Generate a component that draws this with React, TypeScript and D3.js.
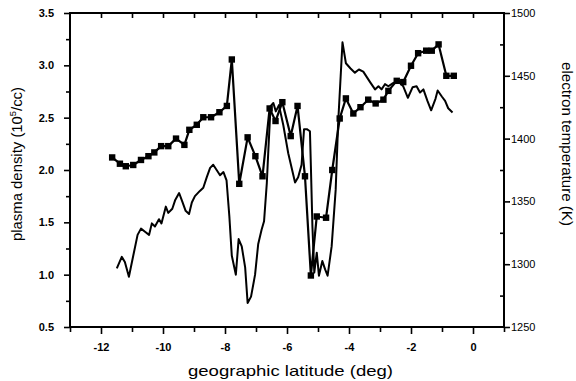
import * as d3 from 'd3';
import { useEffect, useRef } from 'react';

const WIDTH = 576;
const HEIGHT = 381;
const PLOT = { left: 70, right: 504, top: 13, bottom: 327 };
const FONT = "'Liberation Sans', Arial, Helvetica, sans-serif";

// electron temperature (K), squares, right axis
const tempLat = [-11.64, -11.39, -11.2, -10.96, -10.71, -10.47, -10.28, -10.06, -9.83, -9.58, -9.31, -9.15, -8.91, -8.7, -8.45, -8.18, -7.94, -7.78, -7.54, -7.27, -7.02, -6.79, -6.56, -6.37, -6.15, -5.88, -5.66, -5.42, -5.23, -5.04, -4.74, -4.54, -4.3, -4.1, -3.86, -3.63, -3.38, -3.14, -2.89, -2.73, -2.46, -2.25, -2.0, -1.77, -1.51, -1.33, -1.11, -0.86, -0.62];
const tempK = [1385, 1380, 1378, 1379, 1383, 1386, 1389, 1394, 1394, 1400, 1395, 1407, 1411, 1417, 1417, 1421, 1426, 1463, 1364, 1401, 1386, 1370, 1424, 1414, 1429, 1402, 1426, 1370, 1291, 1338, 1337, 1375, 1416, 1432, 1420, 1425, 1431, 1428, 1431, 1438, 1446, 1445, 1458, 1468, 1470, 1470, 1475, 1450, 1450];

// plasma density (10^5/cc), solid line, left axis
const densLat = [-11.49, -11.33, -11.23, -11.1, -10.96, -10.82, -10.71, -10.58, -10.45, -10.36, -10.26, -10.13, -10.05, -9.91, -9.83, -9.7, -9.61, -9.48, -9.38, -9.27, -9.16, -9.07, -8.97, -8.81, -8.7, -8.59, -8.48, -8.38, -8.27, -8.16, -8.05, -7.95, -7.86, -7.78, -7.65, -7.56, -7.46, -7.35, -7.27, -7.16, -7.03, -6.93, -6.82, -6.74, -6.65, -6.6, -6.53, -6.44, -6.36, -6.26, -6.12, -5.96, -5.74, -5.64, -5.53, -5.45, -5.36, -5.26, -5.23, -5.18, -5.12, -5.04, -4.97, -4.86, -4.77, -4.69, -4.56, -4.43, -4.35, -4.21, -4.1, -3.95, -3.81, -3.68, -3.54, -3.43, -3.32, -3.16, -3.05, -2.95, -2.84, -2.73, -2.58, -2.42, -2.25, -2.1, -1.95, -1.82, -1.71, -1.6, -1.47, -1.35, -1.21, -1.14, -1.0, -0.9, -0.8, -0.66];
const density = [1.06, 1.17, 1.12, 0.98, 1.18, 1.38, 1.44, 1.41, 1.38, 1.49, 1.46, 1.53, 1.49, 1.65, 1.59, 1.63, 1.71, 1.78, 1.7, 1.61, 1.58, 1.69, 1.75, 1.8, 1.83, 1.93, 2.02, 2.05, 2.0, 1.95, 1.98, 1.9, 1.56, 1.18, 1.0, 1.34, 1.27, 1.07, 0.73, 0.79, 1.0, 1.29, 1.43, 1.51, 1.88, 2.2, 2.61, 2.64, 2.56, 2.62, 2.43, 2.16, 1.88, 1.93, 2.05, 2.39, 2.39, 2.37, 2.04, 1.46, 1.02, 1.21, 0.99, 1.13, 1.05, 0.99, 1.27, 1.81, 2.45, 3.22, 3.02, 2.97, 2.93, 2.96, 2.94, 2.89, 2.84, 2.77, 2.8, 2.77, 2.82, 2.8, 2.83, 2.85, 2.8, 2.69, 2.79, 2.8, 2.74, 2.77, 2.66, 2.57, 2.68, 2.76, 2.7, 2.66, 2.59, 2.55];

const latTicks = [-12, -10, -8, -6, -4, -2, 0];
const latMinor = [-13, -11, -9, -7, -5, -3, -1, 1];
const densTicks = [0.5, 1.0, 1.5, 2.0, 2.5, 3.0, 3.5];
const densMinor = [0.75, 1.25, 1.75, 2.25, 2.75, 3.25];
const tempTicks = [1250, 1300, 1350, 1400, 1450, 1500];
const tempMinor = [1275, 1325, 1375, 1425, 1475];

const App = () => {
    const svgRef = useRef(null);

    useEffect(() => {
        const svg = d3.select(svgRef.current);
        svg.selectAll('*').remove();

        const x = d3.scaleLinear().domain([-13, 1]).range([PLOT.left, PLOT.right]);
        const yL = d3.scaleLinear().domain([0.5, 3.5]).range([PLOT.bottom, PLOT.top]);
        const yR = d3.scaleLinear().domain([1250, 1500]).range([PLOT.bottom, PLOT.top]);

        const clean = (g) => {
            g.select('.domain').remove();
            g.selectAll('line').attr('stroke', '#000').attr('stroke-width', 1.6);
            g.selectAll('text').attr('fill', '#000').attr('font-family', FONT);
        };

        // bottom axis
        svg.append('g')
            .attr('transform', `translate(0,${PLOT.bottom})`)
            .call(d3.axisBottom(x).tickValues(latTicks).tickSize(7).tickPadding(9).tickFormat(d => String(d)))
            .call(clean)
            .call(g => g.selectAll('text').attr('font-size', 11).attr('font-weight', 'bold'));
        svg.append('g')
            .attr('transform', `translate(0,${PLOT.bottom})`)
            .call(d3.axisBottom(x).tickValues(latMinor).tickSize(5).tickFormat(() => ''))
            .call(clean);

        // top axis, ticks inward
        svg.append('g')
            .attr('transform', `translate(0,${PLOT.top})`)
            .call(d3.axisBottom(x).tickValues(d3.range(-12, 1)).tickSize(5).tickFormat(() => ''))
            .call(clean);

        // left axis
        svg.append('g')
            .attr('transform', `translate(${PLOT.left},0)`)
            .call(d3.axisLeft(yL).tickValues(densTicks).tickSize(6).tickPadding(10).tickFormat(d3.format('.1f')))
            .call(clean)
            .call(g => g.selectAll('text').attr('font-size', 11).attr('font-weight', 'bold'));
        svg.append('g')
            .attr('transform', `translate(${PLOT.left},0)`)
            .call(d3.axisLeft(yL).tickValues(densMinor).tickSize(4).tickFormat(() => ''))
            .call(clean);

        // right axis
        svg.append('g')
            .attr('transform', `translate(${PLOT.right},0)`)
            .call(d3.axisRight(yR).tickValues(tempTicks).tickSize(6).tickPadding(1).tickFormat(d => String(d)))
            .call(clean)
            .call(g => g.selectAll('text').attr('font-size', 11));
        svg.append('g')
            .attr('transform', `translate(${PLOT.right},0)`)
            .call(d3.axisLeft(yR).tickValues(tempMinor).tickSize(4).tickFormat(() => ''))
            .call(clean);

        // frame
        svg.append('rect')
            .attr('x', PLOT.left)
            .attr('y', PLOT.top)
            .attr('width', PLOT.right - PLOT.left)
            .attr('height', PLOT.bottom - PLOT.top)
            .attr('fill', 'none')
            .attr('stroke', '#000')
            .attr('stroke-width', 2);

        // density line
        const densLine = d3.line<number>()
            .x((d, i) => x(densLat[i]))
            .y(d => yL(d));
        svg.append('path')
            .attr('d', densLine(density))
            .attr('fill', 'none')
            .attr('stroke', '#000')
            .attr('stroke-width', 2)
            .attr('stroke-linejoin', 'round');

        // temperature line + squares
        const tempLine = d3.line<number>()
            .x((d, i) => x(tempLat[i]))
            .y(d => yR(d));
        svg.append('path')
            .attr('d', tempLine(tempK))
            .attr('fill', 'none')
            .attr('stroke', '#000')
            .attr('stroke-width', 2.2)
            .attr('stroke-linejoin', 'round');
        svg.append('g')
            .selectAll('rect')
            .data(tempK)
            .join('rect')
            .attr('x', (d, i) => x(tempLat[i]) - 3.2)
            .attr('y', d => yR(d) - 3.2)
            .attr('width', 6.4)
            .attr('height', 6.4)
            .attr('fill', '#000');

        // axis titles
        svg.append('text')
            .attr('transform', 'translate(22,164) rotate(-90)')
            .attr('text-anchor', 'middle')
            .attr('font-family', FONT)
            .attr('font-size', 14.5)
            .attr('textLength', 154)
            .attr('lengthAdjust', 'spacingAndGlyphs')
            .text('plasma density (10')
            .append('tspan').attr('font-size', 9).attr('dy', -6).text('5')
            .select(function () { return this.parentNode; })
            .append('tspan').attr('dy', 6).text('/cc)');

        svg.append('text')
            .attr('transform', 'translate(562,144) rotate(90)')
            .attr('text-anchor', 'middle')
            .attr('font-family', FONT)
            .attr('font-size', 14.5)
            .attr('textLength', 164)
            .attr('lengthAdjust', 'spacingAndGlyphs')
            .text('electron temperature (K)');

        svg.append('text')
            .attr('x', 290.5)
            .attr('y', 376)
            .attr('text-anchor', 'middle')
            .attr('font-family', FONT)
            .attr('font-size', 15)
            .attr('textLength', 205)
            .attr('lengthAdjust', 'spacingAndGlyphs')
            .text('geographic latitude (deg)');
    }, []);

    return (
        <svg
            ref={svgRef}
            width={WIDTH}
            height={HEIGHT}
            style={{ position: 'absolute', left: 0, top: 0, background: '#fff' }}
        />
    );
};

export default App;
